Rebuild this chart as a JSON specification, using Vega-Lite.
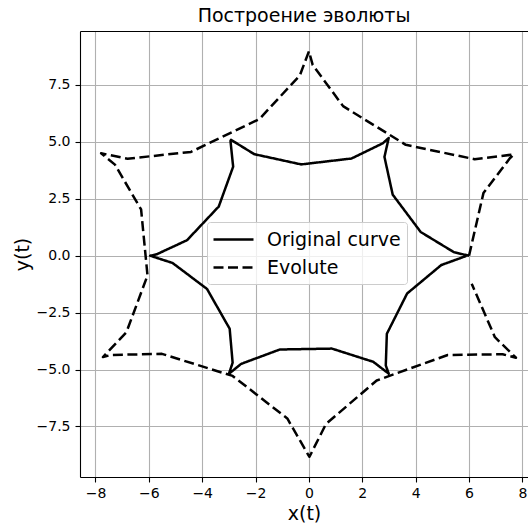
{
  "$schema": "https://vega.github.io/schema/vega-lite/v6.json",
  "autosize": {"type": "none"},
  "padding": {"left": 80, "top": 31, "right": 0, "bottom": 49},
  "width": 448,
  "height": 446,
  "background": "white",
  "title": {
    "text": "Построение эволюты",
    "font": "DejaVu Sans",
    "fontSize": 19,
    "fontWeight": "normal",
    "color": "#000000",
    "anchor": "middle",
    "baseline": "alphabetic",
    "offset": -10
  },
  "config": {
    "view": {"stroke": null},
    "axis": {
      "labelFont": "DejaVu Sans",
      "labelFontSize": 14,
      "labelColor": "#000000",
      "titleFont": "DejaVu Sans",
      "titleFontSize": 19,
      "titleFontWeight": "normal",
      "titleColor": "#000000",
      "domainColor": "#000000",
      "domainWidth": 1.1,
      "tickColor": "#000000",
      "tickWidth": 1.1,
      "tickSize": 5,
      "gridColor": "#b0b0b0",
      "gridWidth": 1.1,
      "labelFlush": false,
      "labelOverlap": false
    },
    "legend": {
      "orient": "none",
      "legendX": 127,
      "legendY": 191,
      "title": null,
      "labelFont": "DejaVu Sans",
      "labelFontSize": 19,
      "labelColor": "#000000",
      "symbolType": "M-1.1,0H2.9",
      "symbolSize": 400,
      "symbolStrokeWidth": 2.5,
      "labelOffset": 31,
      "rowPadding": 6,
      "padding": 6,
      "fillColor": "rgba(255,255,255,0.8)",
      "strokeColor": "#cccccc",
      "cornerRadius": 3
    }
  },
  "data": {
    "values": [
      {"series": "Original curve", "i": 0, "x": 6.00, "y": 0.00},
      {"series": "Original curve", "i": 1, "x": 5.44, "y": 0.15},
      {"series": "Original curve", "i": 2, "x": 4.19, "y": 1.04},
      {"series": "Original curve", "i": 3, "x": 3.14, "y": 2.68},
      {"series": "Original curve", "i": 4, "x": 2.83, "y": 4.34},
      {"series": "Original curve", "i": 5, "x": 2.99, "y": 5.17},
      {"series": "Original curve", "i": 6, "x": 2.77, "y": 4.94},
      {"series": "Original curve", "i": 7, "x": 1.60, "y": 4.27},
      {"series": "Original curve", "i": 8, "x": -0.29, "y": 4.01},
      {"series": "Original curve", "i": 9, "x": -2.05, "y": 4.46},
      {"series": "Original curve", "i": 10, "x": -2.92, "y": 5.09},
      {"series": "Original curve", "i": 11, "x": -2.94, "y": 5.04},
      {"series": "Original curve", "i": 12, "x": -2.84, "y": 3.91},
      {"series": "Original curve", "i": 13, "x": -3.38, "y": 2.16},
      {"series": "Original curve", "i": 14, "x": -4.57, "y": 0.68},
      {"series": "Original curve", "i": 15, "x": -5.71, "y": 0.06},
      {"series": "Original curve", "i": 16, "x": -5.95, "y": 0.00},
      {"series": "Original curve", "i": 17, "x": -5.11, "y": -0.32},
      {"series": "Original curve", "i": 18, "x": -3.82, "y": -1.46},
      {"series": "Original curve", "i": 19, "x": -2.97, "y": -3.21},
      {"series": "Original curve", "i": 20, "x": -2.86, "y": -4.70},
      {"series": "Original curve", "i": 21, "x": -3.00, "y": -5.19},
      {"series": "Original curve", "i": 22, "x": -2.54, "y": -4.75},
      {"series": "Original curve", "i": 23, "x": -1.09, "y": -4.12},
      {"series": "Original curve", "i": 24, "x": 0.86, "y": -4.08},
      {"series": "Original curve", "i": 25, "x": 2.41, "y": -4.66},
      {"series": "Original curve", "i": 26, "x": 2.99, "y": -5.18},
      {"series": "Original curve", "i": 27, "x": 2.88, "y": -4.82},
      {"series": "Original curve", "i": 28, "x": 2.92, "y": -3.43},
      {"series": "Original curve", "i": 29, "x": 3.68, "y": -1.66},
      {"series": "Original curve", "i": 30, "x": 4.96, "y": -0.41},
      {"series": "Original curve", "i": 31, "x": 5.90, "y": -0.01},
      {"series": "Evolute", "i": 0, "x": 6.00, "y": 0.00},
      {"series": "Evolute", "i": 1, "x": 6.54, "y": 2.75},
      {"series": "Evolute", "i": 2, "x": 7.53, "y": 4.28},
      {"series": "Evolute", "i": 3, "x": 7.68, "y": 4.45},
      {"series": "Evolute", "i": 4, "x": 6.21, "y": 4.24},
      {"series": "Evolute", "i": 5, "x": 3.63, "y": 4.87},
      {"series": "Evolute", "i": 6, "x": 1.28, "y": 6.57},
      {"series": "Evolute", "i": 7, "x": 0.14, "y": 8.38},
      {"series": "Evolute", "i": 8, "x": 0.00, "y": 8.98},
      {"series": "Evolute", "i": 9, "x": -0.34, "y": 7.92},
      {"series": "Evolute", "i": 10, "x": -1.86, "y": 6.00},
      {"series": "Evolute", "i": 11, "x": -4.42, "y": 4.56},
      {"series": "Evolute", "i": 12, "x": -6.80, "y": 4.26},
      {"series": "Evolute", "i": 13, "x": -7.79, "y": 4.50},
      {"series": "Evolute", "i": 14, "x": -7.27, "y": 4.00},
      {"series": "Evolute", "i": 15, "x": -6.29, "y": 2.03},
      {"series": "Evolute", "i": 16, "x": -6.05, "y": -0.87},
      {"series": "Evolute", "i": 17, "x": -6.84, "y": -3.36},
      {"series": "Evolute", "i": 18, "x": -7.72, "y": -4.45},
      {"series": "Evolute", "i": 19, "x": -7.42, "y": -4.36},
      {"series": "Evolute", "i": 20, "x": -5.51, "y": -4.31},
      {"series": "Evolute", "i": 21, "x": -2.86, "y": -5.28},
      {"series": "Evolute", "i": 22, "x": -0.81, "y": -7.15},
      {"series": "Evolute", "i": 23, "x": -0.04, "y": -8.72},
      {"series": "Evolute", "i": 24, "x": 0.02, "y": -8.83},
      {"series": "Evolute", "i": 25, "x": 0.64, "y": -7.39},
      {"series": "Evolute", "i": 26, "x": 2.54, "y": -5.48},
      {"series": "Evolute", "i": 27, "x": 5.20, "y": -4.36},
      {"series": "Evolute", "i": 28, "x": 7.26, "y": -4.33},
      {"series": "Evolute", "i": 29, "x": 7.76, "y": -4.48},
      {"series": "Evolute", "i": 30, "x": 6.97, "y": -3.58},
      {"series": "Evolute", "i": 31, "x": 6.10, "y": -1.23}
    ]
  },
  "layer": [
    {
      "mark": {"type": "line", "strokeWidth": 2.5, "strokeJoin": "round"},
      "encoding": {
        "x": {
          "field": "x",
          "type": "quantitative",
          "scale": {"domain": [-8.58, 8.21], "nice": false, "zero": false},
          "axis": {
            "orient": "bottom",
            "values": [-8, -6, -4, -2, 0, 2, 4, 6, 8],
            "format": "d",
            "title": "x(t)",
            "grid": true,
            "labelPadding": 4,
            "titlePadding": 4
          }
        },
        "y": {
          "field": "y",
          "type": "quantitative",
          "scale": {"domain": [-9.72, 9.87], "nice": false, "zero": false},
          "axis": {
            "values": [-7.5, -5, -2.5, 0, 2.5, 5, 7.5],
            "format": ".1f",
            "title": "y(t)",
            "grid": true,
            "labelPadding": 5,
            "titlePadding": 4
          }
        },
        "color": {
          "field": "series",
          "type": "nominal",
          "scale": {"domain": ["Original curve", "Evolute"], "range": ["#000000", "#000000"]}
        },
        "strokeDash": {
          "field": "series",
          "type": "nominal",
          "scale": {"domain": ["Original curve", "Evolute"], "range": [[1, 0], [10, 4.5]]}
        },
        "order": {"field": "i", "type": "quantitative"}
      }
    },
    {
      "mark": {"type": "line", "strokeOpacity": 0},
      "encoding": {
        "x": {
          "field": "x",
          "type": "quantitative",
          "axis": {"orient": "top", "labels": false, "ticks": false, "grid": false, "title": null}
        },
        "y": {"field": "y", "type": "quantitative"},
        "detail": {"field": "series", "type": "nominal"},
        "order": {"field": "i", "type": "quantitative"}
      }
    }
  ],
  "resolve": {"axis": {"x": "independent"}}
}
